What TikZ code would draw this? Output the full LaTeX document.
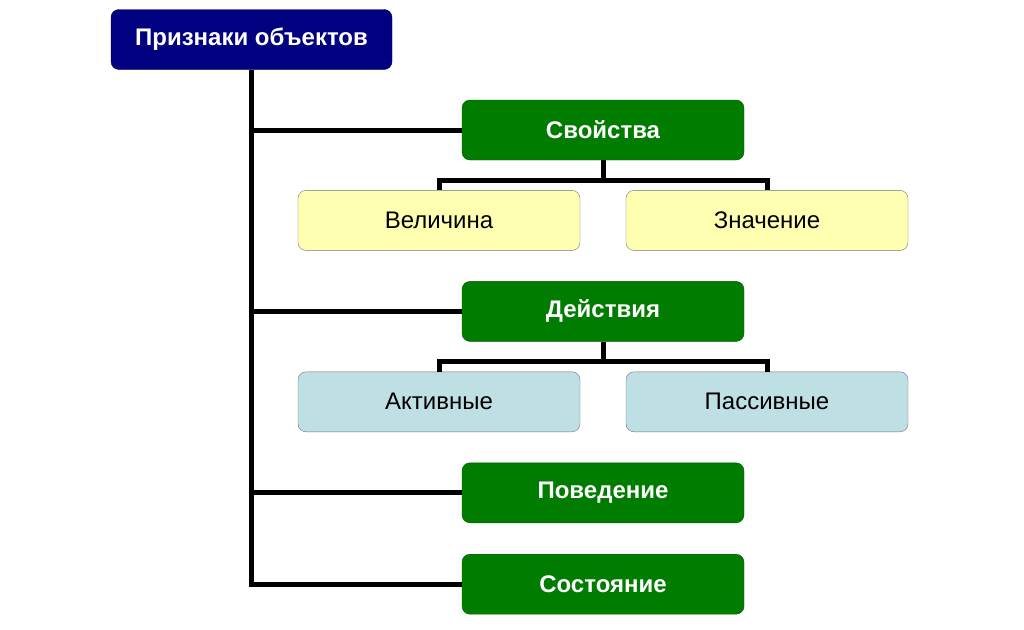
\documentclass[tikz,border=0pt]{standalone}
\usepackage{fontspec}
\setmainfont{Liberation Sans}
\usetikzlibrary{positioning}
\definecolor{navyFill}{RGB}{0,0,128}
\definecolor{greenFill}{RGB}{0,124,0}
\definecolor{yellowFill}{RGB}{255,255,178}
\definecolor{blueFill}{RGB}{190,224,228}
\tikzset{%
	% Specifications for style of nodes:
	base/.style = {rectangle, rounded corners=8pt, minimum width=282pt,
		minimum height=60pt, inner sep=0pt, text centered,
		font=\fontsize{24}{28}\selectfont},
	root/.style = {base, fill=navyFill, draw=navyFill!70!black, text=white,
		font=\fontsize{24}{28}\selectfont\bfseries},
	group/.style = {base, fill=greenFill, draw=greenFill!70!black, text=white,
		font=\fontsize{24}{28}\selectfont\bfseries},
	valueBox/.style = {base, fill=yellowFill, draw=black!55},
	kindBox/.style = {base, fill=blueFill, draw=black!55},
	link/.style = {line width=5pt, black}
}
\begin{document}
\begin{tikzpicture}[x=1pt, y=-1pt]
		\useasboundingbox (0,0) rectangle (1024,629);
		\node (signs) [root, minimum width=281pt] at (251.5,39.5) {Признаки объектов};
		\node (props) [group] at (603,130) {Свойства};
		\node (magn) [valueBox, below=30pt of props, xshift=-164pt] {Величина};
		\node (val) [valueBox, below=30pt of props, xshift=164pt] {Значение};
		\node (acts) [group, below=121pt of props] {Действия};
		\node (activ) [kindBox, below=30pt of acts, xshift=-164pt] {Активные};
		\node (passiv) [kindBox, below=30pt of acts, xshift=164pt] {Пассивные};
		\node (behav) [group, below=121pt of acts] {Поведение};
		\node (state) [group, below=31pt of behav] {Состояние};
		% trunk and branches
		\draw[link] (signs.south) |- (state.west);
		\draw[link] (signs.south |- props.west) -- (props.west);
		\draw[link] (signs.south |- acts.west) -- (acts.west);
		\draw[link] (signs.south |- behav.west) -- (behav.west);
		% forks to the sub-boxes
		\coordinate (propsFork) at ([yshift=-20pt]props.south);
		\draw[link] (props.south) -- (propsFork);
		\draw[link] (magn.north) |- (propsFork) -| (val.north);
		\coordinate (actsFork) at ([yshift=-20pt]acts.south);
		\draw[link] (acts.south) -- (actsFork);
		\draw[link] (activ.north) |- (actsFork) -| (passiv.north);
	\end{tikzpicture}
\end{document}
